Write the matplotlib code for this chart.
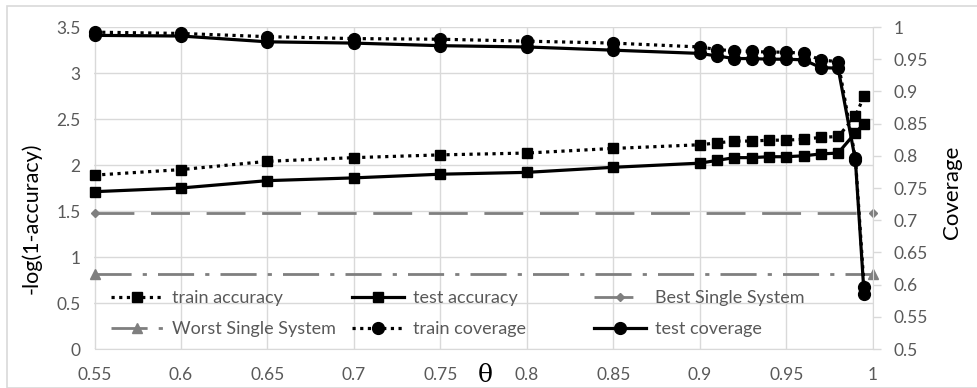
import matplotlib
matplotlib.use("Agg")
import matplotlib.pyplot as plt
from matplotlib.legend import Legend
from matplotlib.patches import Rectangle
import matplotlib.transforms as mtransforms

theta = [0.55, 0.6, 0.65, 0.7, 0.75, 0.8, 0.85, 0.9, 0.91, 0.92, 0.93, 0.94,
         0.95, 0.96, 0.97, 0.98, 0.99, 0.995]
train_accuracy = [1.89, 1.95, 2.04, 2.08, 2.11, 2.13, 2.18, 2.22, 2.24, 2.26,
                  2.26, 2.27, 2.27, 2.28, 2.30, 2.31, 2.53, 2.75]
test_accuracy = [1.71, 1.75, 1.83, 1.86, 1.90, 1.92, 1.975, 2.02, 2.05, 2.08,
                 2.08, 2.09, 2.09, 2.10, 2.12, 2.13, 2.35, 2.45]
train_coverage = [0.992, 0.990, 0.985, 0.982, 0.981, 0.978, 0.975, 0.969, 0.965,
                  0.963, 0.962, 0.961, 0.961, 0.959, 0.949, 0.946, 0.796, 0.597]
test_coverage = [0.987, 0.986, 0.977, 0.975, 0.971, 0.969, 0.964, 0.959, 0.955,
                 0.951, 0.951, 0.950, 0.950, 0.949, 0.937, 0.936, 0.793, 0.586]
single_x = [0.55, 1.0]
best_single = [1.48, 1.48]
worst_single = [0.82, 0.82]

xticks = [0.55, 0.6, 0.65, 0.7, 0.75, 0.8, 0.85, 0.9, 0.95, 1]
xtick_labels = ["0.55", "0.6", "0.65", "0.7", "0.75", "0.8", "0.85", "0.9", "0.95", "1"]
yticks = [0, 0.5, 1, 1.5, 2, 2.5, 3, 3.5]
ytick_labels = ["0", "0.5", "1", "1.5", "2", "2.5", "3", "3.5"]
y2ticks = [0.5, 0.55, 0.6, 0.65, 0.7, 0.75, 0.8, 0.85, 0.9, 0.95, 1]
y2tick_labels = ["0.5", "0.55", "0.6", "0.65", "0.7", "0.75", "0.8", "0.85", "0.9", "0.95", "1"]

FONT = "Lato"
plt.rcParams['font.family'] = [FONT, 'DejaVu Sans']
TICKC = "#595959"
GRID = "#d9d9d9"
GREY = "#7f7f7f"
TS = 12.5

fig = plt.figure(figsize=(9.78, 3.88), dpi=100)
fig.patches.append(Rectangle((7/978, 0.0), 1.0, (388-5.5)/388, transform=fig.transFigure,
                             fill=False, edgecolor=GRID, linewidth=1.2))
ax = fig.add_axes([94.5/978, (388-349)/388, (872.7-94.5)/978, (349-27)/388])
ax2 = ax.twinx()

ax.set_xlim(0.55, 1.0)
ax.set_ylim(0, 3.5)
ax2.set_ylim(0.5, 1.0)

ax.set_xticks(xticks)
ax.set_xticklabels(xtick_labels)
ax.set_yticks(yticks)
ax.set_yticklabels(ytick_labels)
ax2.set_yticks(y2ticks)
ax2.set_yticklabels(y2tick_labels)

ax.grid(True, color=GRID, linewidth=1.0)
ax.set_axisbelow(True)
for a in (ax, ax2):
    for s in ("top", "left", "right"):
        a.spines[s].set_visible(False)
    a.spines["bottom"].set_color(GRID)
ax2.spines["right"].set_visible(True)
ax2.spines["right"].set_color(GRID)
ax2.spines["bottom"].set_visible(False)

ax.tick_params(axis="x", length=0, pad=13, labelsize=TS, labelcolor=TICKC)
ax.tick_params(axis="y", length=0, pad=10, labelsize=TS, labelcolor=TICKC)
ax2.tick_params(axis="y", length=6, width=1, color=GRID, pad=9, labelsize=TS, labelcolor=TICKC)

lw = 2.3
ms_sq = 7
ms_c = 8.5
dot = (0, (1, 1.4))
l_tra, = ax.plot(theta, train_accuracy, color="black", linestyle=dot, linewidth=lw,
                 marker="s", markersize=ms_sq, label="train accuracy")
l_tea, = ax.plot(theta, test_accuracy, color="black", linestyle="-", linewidth=lw,
                 marker="s", markersize=ms_sq, label="test accuracy")
l_best, = ax.plot(single_x, best_single, color=GREY, linestyle=(0, (14, 6)), linewidth=2.0,
                  marker="D", markersize=4.5, label="Best Single System")
l_worst, = ax.plot(single_x, worst_single, color=GREY, linestyle=(0, (13, 4, 1.5, 4)), linewidth=2.0,
                   marker="^", markersize=7, label="Worst Single System")
for l in (l_tra, l_tea, l_best, l_worst):
    l.set_clip_on(False)
l_trc, = ax2.plot(theta, train_coverage, color="black", linestyle=dot, linewidth=lw,
                  marker="o", markersize=ms_c, label="train coverage", clip_on=False)
l_tec, = ax2.plot(theta, test_coverage, color="black", linestyle="-", linewidth=lw,
                  marker="o", markersize=ms_c, label="test coverage", clip_on=False)

ax.set_ylabel("-log(1-accuracy)", fontsize=15.5, color="black")
ax.yaxis.set_label_coords((42-94.5)/778, (349-218)/322)
ax2.set_ylabel("Coverage", fontsize=16, color="black")
ax2.yaxis.set_label_coords((942-94.5)/778, (349-192)/322)
trans = mtransforms.blended_transform_factory(ax.transData, ax.transAxes)
ax.text(0.7759, -26/322, "θ", transform=trans,
        fontsize=18, family="DejaVu Serif", ha="center", va="center")

cols = [(111, [l_tra, l_worst]), (352, [l_tea, l_trc]), (594, [l_best, l_tec])]
for xpx, hs in cols:
    leg = Legend(ax2, hs, [h.get_label() for h in hs], loc="upper left",
                 bbox_to_anchor=(xpx/978, (388-290)/388), bbox_transform=fig.transFigure,
                 frameon=False, fontsize=13, handlelength=2.9, handletextpad=0.5,
                 borderaxespad=0, borderpad=0, labelspacing=0.85, labelcolor=TICKC)
    ax2.add_artist(leg)

fig.savefig("out.png", dpi=100)
